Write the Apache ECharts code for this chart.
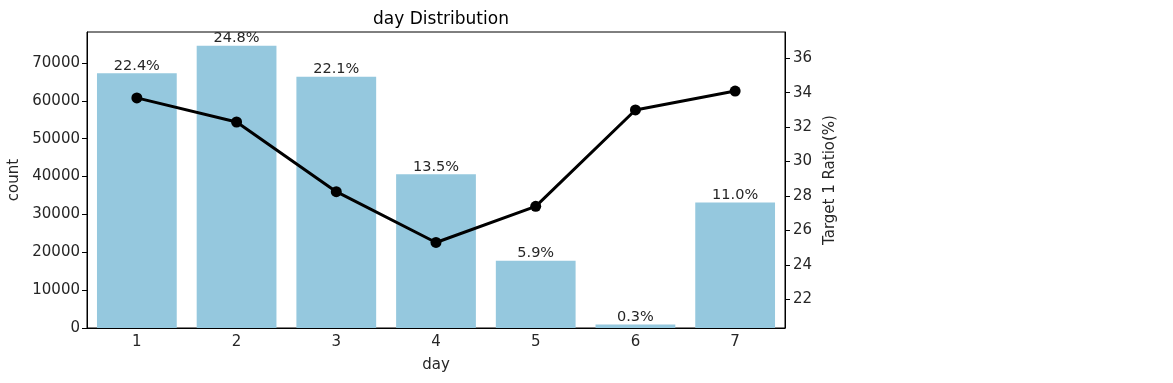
<!DOCTYPE html>
<html><head><meta charset="utf-8">
<script src="https://cdn.jsdelivr.net/npm/echarts@6/dist/echarts.min.js"></script>
<style>html,body{margin:0;padding:0;background:#fff}#c{width:1173px;height:383px}</style>
</head><body><div id="c"></div>
<script>
const categories = ['1','2','3','4','5','6','7'];
const counts = [67300, 74600, 66400, 40600, 17750, 950, 33150];
const pctLabels = ['22.4%','24.8%','22.1%','13.5%','5.9%','0.3%','11.0%'];
const ratios = [33.7, 32.3, 28.25, 25.3, 27.4, 33.0, 34.1];
const leftTicks = [0,10000,20000,30000,40000,50000,60000,70000];
const rightTicks = [22,24,26,28,30,32,34,36];

const font = 'DejaVu Sans';
const txt = '#262626';
const chart = echarts.init(document.getElementById('c'));
chart.setOption({
  animation: false,
  textStyle: {fontFamily: font},
  title: {text: 'day Distribution', left: 436, top: 6, textAlign: 'center',
    textStyle: {fontFamily: font, fontSize: 17, fontWeight: 'normal', color: '#000'}},
  grid: {left: 87, right: 388, top: 32, bottom: 55, outerBoundsMode: 'none', containLabel: false,
    show: true, borderColor: '#000', borderWidth: 1, backgroundColor: 'transparent'},
  xAxis: {type: 'category', data: categories, name: 'day', nameLocation: 'middle', nameGap: 30,
    nameTextStyle: {fontSize: 15, color: txt, fontFamily: font},
    axisLine: {lineStyle: {color: '#000'}},
    axisTick: {alignWithLabel: true, length: 5, lineStyle: {color: '#000'}},
    axisLabel: {fontSize: 15, color: txt, margin: 7, fontFamily: font}},
  yAxis: [
    {type: 'value', min: 0, max: 78200, name: 'count', nameLocation: 'middle', nameGap: 62,
      nameTextStyle: {fontSize: 15, color: txt, fontFamily: font},
      splitLine: {show: false},
      axisLine: {show: true, lineStyle: {color: '#000'}},
      axisTick: {show: true, length: 5, customValues: leftTicks, lineStyle: {color: '#000'}},
      axisLabel: {fontSize: 15, color: txt, margin: 7, customValues: leftTicks, fontFamily: font,
        formatter: v => String(v)}},
    {type: 'value', min: 20.33, max: 37.53, name: 'Target 1 Ratio(%)', nameLocation: 'middle', nameGap: 37,
      nameRotate: 90,
      nameTextStyle: {fontSize: 15, color: txt, fontFamily: font},
      splitLine: {show: false},
      axisLine: {show: true, lineStyle: {color: '#000'}},
      axisTick: {show: true, length: 5, customValues: rightTicks, lineStyle: {color: '#000'}},
      axisLabel: {fontSize: 15, color: txt, margin: 8, customValues: rightTicks, fontFamily: font,
        formatter: v => String(v)}}
  ],
  series: [
    {type: 'bar', data: counts, barWidth: '80%', itemStyle: {color: '#95c8de'},
      label: {show: true, position: 'top', distance: 0, fontSize: 14.5, color: txt, fontFamily: font,
        formatter: p => pctLabels[p.dataIndex]}},
    {type: 'line', yAxisIndex: 1, data: ratios, symbol: 'circle', symbolSize: 11,
      lineStyle: {color: '#000', width: 3}, itemStyle: {color: '#000'}, z: 5}
  ]
});
</script></body></html>
